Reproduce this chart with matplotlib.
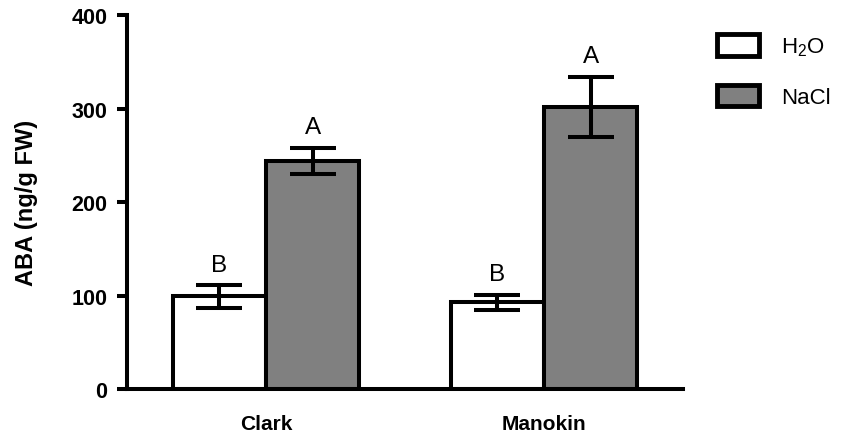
import matplotlib.pyplot as plt
import numpy as np
from matplotlib.patches import Patch

plt.rcParams['font.family'] = ['Liberation Sans', 'DejaVu Sans']
plt.rcParams['mathtext.fontset'] = 'custom'
plt.rcParams['mathtext.rm'] = 'Liberation Sans'
plt.rcParams['mathtext.default'] = 'regular'

# data
cultivars = ["Clark", "Manokin"]
h2o_mean = [99, 93]
h2o_err = [12, 8]
nacl_mean = [244, 302]
nacl_err = [14, 32]
h2o_letters = ["B", "B"]
nacl_letters = ["A", "A"]
yticks = [0, 100, 200, 300, 400]

x = np.arange(len(cultivars))
width = 0.335
lw = 2.9

fig = plt.figure(figsize=(8.49, 4.35), dpi=100)
ax = fig.add_axes([0.1496, 0.1034, 0.6549, 0.8596])

ax.bar(x - width / 2, h2o_mean, width, color="white", edgecolor="black",
       linewidth=lw, label="H$_2$O", zorder=2)
ax.bar(x + width / 2, nacl_mean, width, color="#808080", edgecolor="black",
       linewidth=lw, label="NaCl", zorder=2)

for pos, m, e in [(x - width / 2, h2o_mean, h2o_err), (x + width / 2, nacl_mean, nacl_err)]:
    ax.errorbar(pos, m, yerr=e, fmt="none", ecolor="black", elinewidth=lw,
                capsize=16.5, capthick=lw, zorder=3)

for i in range(len(cultivars)):
    ax.annotate(h2o_letters[i], (x[i] - width / 2, h2o_mean[i] + h2o_err[i]),
                xytext=(0, 7), textcoords="offset points", ha="center", va="bottom",
                fontsize=17.5)
    ax.annotate(nacl_letters[i], (x[i] + width / 2, nacl_mean[i] + nacl_err[i]),
                xytext=(0, 7), textcoords="offset points", ha="center", va="bottom",
                fontsize=17.5)

ax.set_xlim(-0.5, 1.5)
ax.set_ylim(0, 400)
ax.set_yticks(yticks)
ax.set_xticks(x)
ax.set_xticklabels(cultivars, fontsize=15, fontweight="bold")
for lab in ax.get_yticklabels():
    lab.set_fontweight("bold")
    lab.set_fontsize(15.5)
ax.tick_params(axis="y", length=7, width=lw, pad=7)
ax.tick_params(axis="x", length=0, pad=18)
ax.set_ylabel("ABA (ng/g FW)", fontsize=17, fontweight="bold", labelpad=24)

for s in ["top", "right"]:
    ax.spines[s].set_visible(False)
for s in ["left", "bottom"]:
    ax.spines[s].set_linewidth(lw)

handles = [Patch(facecolor="white", edgecolor="black", linewidth=3.5, label="H$_2$O"),
           Patch(facecolor="#808080", edgecolor="black", linewidth=3.5, label="NaCl")]
ax.legend(handles=handles, loc="upper left", bbox_to_anchor=(1.046, 0.972),
          frameon=False, fontsize=16, handlelength=1.85, handleheight=1.1,
          handletextpad=1.0, labelspacing=1.2, borderaxespad=0)

fig.savefig("out.png", dpi=100)
